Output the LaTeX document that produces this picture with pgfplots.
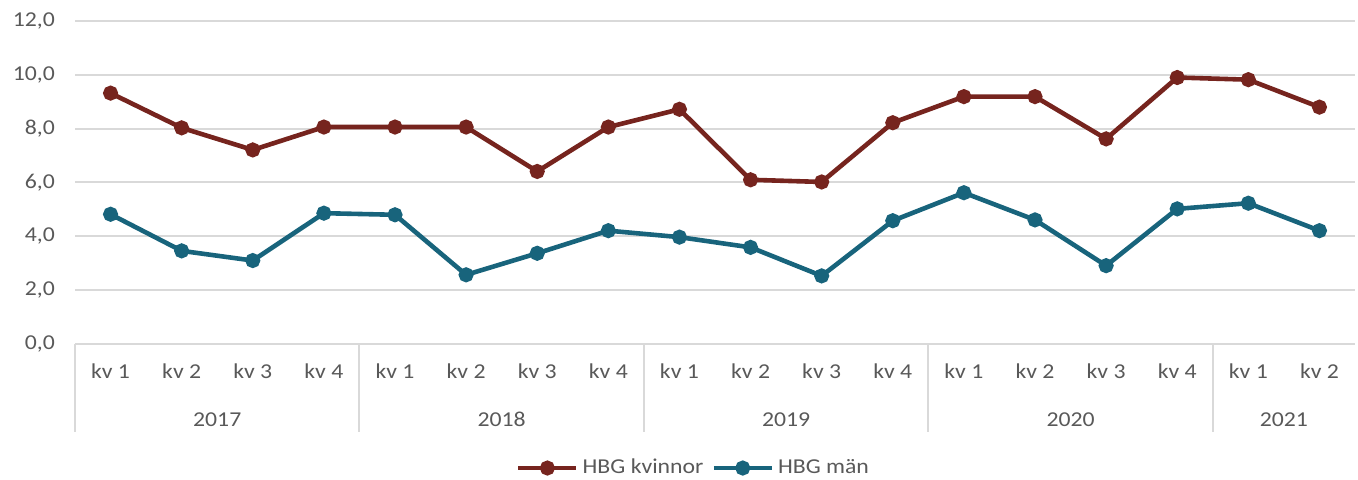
\documentclass[border=0pt]{standalone}
\usepackage{fontspec}
\setmainfont[FakeStretch=1.12]{Carlito}
\usepackage{pgfplots}
\pgfplotsset{compat=1.18}

\definecolor{kvcol}{RGB}{118,36,30}
\definecolor{mancol}{RGB}{24,100,124}
\definecolor{gridcol}{RGB}{217,217,217}
\definecolor{txtcol}{RGB}{89,89,89}

\begin{document}
\begin{tikzpicture}
\useasboundingbox (0,0) rectangle (679pt,240pt);
\begin{axis}[
  at={(37.5pt,68pt)}, anchor=south west,
  scale only axis,
  width=640pt, height=161.5pt,
  xmin=-0.5, xmax=17.5,
  ymin=0, ymax=12,
  ytick={0,2,...,12},
  xtick={0,...,17},
  xticklabels={kv 1,kv 2,kv 3,kv 4,kv 1,kv 2,kv 3,kv 4,kv 1,kv 2,kv 3,kv 4,kv 1,kv 2,kv 3,kv 4,kv 1,kv 2},
  axis line style={draw=none},
  major tick length=0pt,
  ymajorgrids,
  grid style={line width=1pt, gridcol},
  clip=false,
  font=\fontsize{10.6pt}{12pt}\selectfont,
  tick label style={text=txtcol},
  yticklabel style={
    /pgf/number format/.cd, fixed, fixed zerofill, precision=1, use comma,
    assume math mode=true, /tikz/.cd, anchor=east, xshift=-6.5pt},
  xticklabel style={anchor=base, yshift=-17.5pt},
  legend style={at={(axis description cs:0.484,-0.384)}, anchor=center,
    draw=none, fill=none, legend columns=2, text=txtcol,
    font=\fontsize{10.6pt}{12pt}\selectfont,
    /tikz/every even column/.append style={column sep=2pt},
    legend cell align=left, inner sep=0pt},
  legend image code/.code={
    \draw[#1, mark repeat=2, mark phase=2] plot coordinates {(0pt,0pt) (14.5pt,0pt) (29pt,0pt)};},
  every axis plot/.append style={line width=2.3pt, mark=*, mark size=2.6pt, mark options={solid}},
]
\addplot[kvcol]
  coordinates {
  (0,9.32) (1,8.03) (2,7.21) (3,8.06)
  (4,8.06) (5,8.06) (6,6.41) (7,8.06)
  (8,8.72) (9,6.10) (10,6.02) (11,8.22)
  (12,9.19) (13,9.19) (14,7.62) (15,9.90)
  (16,9.82) (17,8.80)};
\addlegendentry{HBG kvinnor}
\addplot[mancol]
  coordinates {
  (0,4.82) (1,3.46) (2,3.10) (3,4.86)
  (4,4.80) (5,2.57) (6,3.37) (7,4.21)
  (8,3.97) (9,3.59) (10,2.53) (11,4.58)
  (12,5.62) (13,4.61) (14,2.91) (15,5.02)
  (16,5.23) (17,4.21)};
\addlegendentry{HBG män}

% year group separators and labels
\foreach \s in {-0.5,3.5,7.5,11.5,15.5}{
  \edef\tmp{\noexpand\draw[gridcol, line width=1pt] (axis cs:\s,0) -- ([yshift=-44pt]axis cs:\s,0);}\tmp
}
\foreach \c/\y in {1.5/2017,5.5/2018,9.5/2019,13.5/2020,16.5/2021}{
  \edef\tmp{\noexpand\node[anchor=base, text=txtcol, yshift=-41.5pt] at (axis cs:\c,0) {\y};}\tmp
}
\end{axis}
\end{tikzpicture}
\end{document}
